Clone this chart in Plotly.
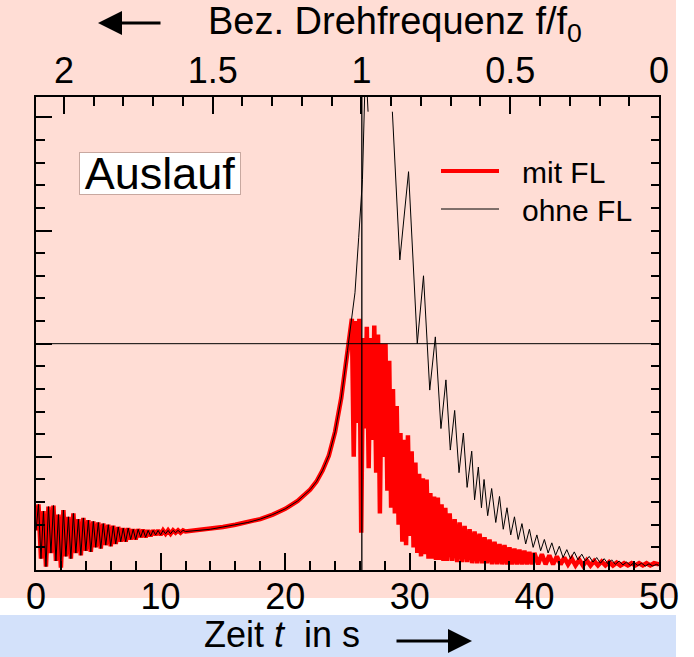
import plotly.graph_objects as go

# ---------------- data ----------------
# common part: both curves coincide from 0 s up to ~25 s
t_common = [0.0, 0.2, 0.4, 0.6, 0.8, 1.0, 1.2, 1.4, 1.6, 1.8, 2.0, 2.2, 2.4, 2.6, 2.8, 3.0, 3.2, 3.4,
            3.6, 3.8, 4.0, 4.2, 4.4, 4.6, 4.8, 5.0, 5.2, 5.4, 5.6, 5.8, 6.0, 6.2, 6.4, 6.6, 6.8, 7.0,
            7.2, 7.4, 7.6, 7.8, 8.0, 8.2, 8.4, 8.6, 8.8, 9.0, 9.2, 9.4, 9.6, 9.8, 10.0, 10.2, 10.4,
            10.6, 10.8, 11.0, 11.2, 11.4, 11.6, 11.8, 12.0, 12.5, 13, 14, 15, 16, 17, 18, 19, 20, 21,
            22, 22.5, 23, 23.5, 24, 24.5, 25.0]
y_common = [0.35, 0.58, 0.10, 0.52, 0.03, 0.56, 0.15, 0.57, 0.08, 0.49, 0.02, 0.53, 0.12, 0.47, 0.10,
            0.50, 0.15, 0.45, 0.13, 0.46, 0.17, 0.44, 0.16, 0.43, 0.20, 0.42, 0.19, 0.41, 0.22, 0.40,
            0.21, 0.39, 0.23, 0.38, 0.25, 0.37, 0.25, 0.37, 0.27, 0.36, 0.27, 0.36, 0.29, 0.355, 0.29,
            0.35, 0.30, 0.35, 0.31, 0.35, 0.31, 0.35, 0.32, 0.35, 0.32, 0.35, 0.33, 0.35, 0.33, 0.35,
            0.34, 0.345, 0.35, 0.36, 0.38, 0.40, 0.42, 0.45, 0.49, 0.54, 0.61, 0.71, 0.78, 0.88, 1.01,
            1.22, 1.52, 1.94]

# "ohne FL" (without) after 25 s  (None = gap where the curve leaves the frame)
t_ohne = [25.2, 25.6, 25.9, 26.2, 26.45, 26.65, None, 28.6, 29.2, 29.9, 30.6, 31.1, 31.6,
          32.05, 32.5, 32.9, 33.25, 33.6, 33.95, 34.3, 34.6, 34.97, 35.2, 35.5, 35.75, 35.96, 36.25,
          36.57, 36.9, 37.2, 37.5, 37.8, 38.1, 38.4, 38.7, 39.0, 39.3, 39.6, 39.9, 40.2, 40.5, 40.8,
          41.1, 41.4, 41.7, 42.0, 42.3, 42.6, 42.9, 43.2, 43.5, 43.8, 44.1, 44.4, 44.7, 45.0, 45.3,
          45.6, 45.9, 46.2, 46.5, 46.8, 47.1, 47.4, 47.7, 48.0, 48.3, 48.6, 48.9, 49.2, 49.5, 49.8, 50.0]
y_ohne = [2.10, 2.45, 2.94, 3.45, 4.50, 4.05, None, 4.05, 2.74, 3.52, 2.00, 2.60, 1.59,
          2.06, 1.25, 1.68, 1.06, 1.41, 0.86, 1.21, 0.73, 1.05, 0.62, 0.91, 0.55, 0.80, 0.48,
          0.72, 0.42, 0.65, 0.36, 0.55, 0.31, 0.47, 0.27, 0.41, 0.23, 0.36, 0.20, 0.31, 0.17, 0.27,
          0.15, 0.24, 0.13, 0.21, 0.11, 0.18, 0.10, 0.16, 0.09, 0.14, 0.08, 0.12, 0.07, 0.11, 0.06,
          0.10, 0.055, 0.09, 0.05, 0.08, 0.045, 0.07, 0.04, 0.065, 0.04, 0.06, 0.035, 0.055, 0.035, 0.05, 0.04]

# "mit FL" (with) after 25 s
t_mit = [25.20, 25.35, 25.50, 25.65, 25.80, 25.95, 26.10, 26.25, 26.40, 26.55, 26.70, 26.85, 27.00,
         27.15, 27.30, 27.45, 27.60, 27.75, 27.90, 28.05, 28.20, 28.35, 28.50, 28.65, 28.80, 28.95,
         29.10, 29.25, 29.40, 29.55, 29.70, 29.85, 30.00, 30.15, 30.30, 30.45, 30.60, 30.75, 30.90,
         31.05, 31.20, 31.35, 31.50, 31.65, 31.80, 31.95, 32.10, 32.25, 32.40, 32.55, 32.70, 32.85,
         33.00, 33.2, 33.4, 33.6, 33.8, 34.0, 34.2, 34.4, 34.6, 34.8, 35.0, 35.2, 35.4, 35.6, 35.8,
         36.0, 36.2, 36.4, 36.6, 36.8, 37.0, 37.2, 37.4, 37.6, 37.8, 38.0, 38.2, 38.4, 38.6, 38.8,
         39.0, 39.2, 39.4, 39.6, 39.8, 40.0, 40.3, 40.6, 40.9, 41.2, 41.5, 41.8, 42.1, 42.4, 42.7,
         43.0, 43.3, 43.6, 43.9, 44.2, 44.5, 44.8, 45.1, 45.4, 45.7, 46.0, 46.3, 46.6, 46.9, 47.2,
         47.5, 47.8, 48.1, 48.4, 48.7, 49.0, 49.3, 49.6, 50.0]
y_mit = [2.09, 2.22, 1.00, 2.20, 1.30, 2.22, 0.33, 2.05, 1.25, 2.15, 0.90, 2.05, 1.15,
         2.16, 0.86, 2.08, 0.50, 2.00, 1.00, 2.00, 0.70, 1.85, 0.55, 1.60, 0.50, 1.45,
         0.40, 1.21, 0.25, 1.15, 0.22, 1.19, 0.30, 1.05, 0.20, 0.95, 0.15, 0.85, 0.12,
         0.81, 0.14, 0.80, 0.10, 0.68, 0.10, 0.65, 0.09, 0.64, 0.09, 0.58, 0.08, 0.55,
         0.08, 0.50, 0.08, 0.45, 0.07, 0.42, 0.07, 0.39, 0.07, 0.36, 0.06, 0.34, 0.06, 0.32, 0.06,
         0.29, 0.06, 0.27, 0.05, 0.25, 0.05, 0.23, 0.05, 0.22, 0.05, 0.20, 0.05, 0.19, 0.05, 0.18,
         0.05, 0.17, 0.05, 0.16, 0.05, 0.15, 0.05, 0.14, 0.05, 0.13, 0.05, 0.12, 0.05, 0.11, 0.05,
         0.10, 0.04, 0.09, 0.04, 0.085, 0.04, 0.08, 0.04, 0.075, 0.04, 0.07, 0.04, 0.065, 0.04, 0.06,
         0.04, 0.06, 0.04, 0.06, 0.04, 0.06, 0.04, 0.06, 0.05]

t_nominal = 26.15          # time where f/f0 = 1
y_ref = 2                  # horizontal reference level
x_ticks = [0, 10, 20, 30, 40, 50]
f_ticks = [2, 1.5, 1, 0.5, 0]
f_labels = ["2", "1.5", "1", "0.5", "0"]
f_range = [2.094, 0]
y_range = [0, 4.18]
names = ["mit FL", "ohne FL"]

FONT = "Liberation Sans, Arial, sans-serif"
PINK = "#FFDDD5"
BLUE = "#D3E1FA"

fig = go.Figure()
fig.add_trace(go.Scatter(x=t_common + t_mit, y=y_common + y_mit, mode="lines", name=names[0],
                         line=dict(color="#FF0000", width=4.5), showlegend=False,
                         connectgaps=False))
fig.add_trace(go.Scatter(x=t_common + t_ohne, y=y_common + y_ohne, mode="lines", name=names[1],
                         line=dict(color="black", width=1), showlegend=False,
                         connectgaps=False))
# empty traces that make the top (f/f0) axis and the right tick axis appear
fig.add_trace(go.Scatter(x=f_ticks, y=[None] * len(f_ticks), xaxis="x2", yaxis="y",
                         mode="lines", showlegend=False, hoverinfo="skip"))
fig.add_trace(go.Scatter(x=[None], y=[None], xaxis="x", yaxis="y2",
                         mode="lines", showlegend=False, hoverinfo="skip"))

W, H = 694, 657
L, R, T, B = 36, 35, 97, 87
pw, ph = W - L - R, H - T - B


def px(x):
    return (x - L) / pw


def py(y):
    return (H - B - y) / ph


tickfont = dict(family=FONT, size=36, color="black")

fig.update_layout(
    width=W, height=H,
    margin=dict(l=L, r=R, t=T, b=B, pad=0, autoexpand=False),
    paper_bgcolor="white",
    plot_bgcolor="rgba(0,0,0,0)",
    font=dict(family=FONT, color="black"),
    xaxis=dict(range=[0, 50], tickvals=x_ticks, ticks="inside", ticklen=17, tickwidth=2,
               tickcolor="black", showline=True, linewidth=2, linecolor="black", mirror=True,
               showgrid=False, zeroline=False, tickfont=tickfont, ticklabelstandoff=-6,
               minor=dict(dtick=2, tick0=0, ticks="inside", ticklen=9, tickwidth=2,
                          tickcolor="black", showgrid=False)),
    xaxis2=dict(range=f_range, overlaying="x", side="top", anchor="y",
                tickvals=f_ticks, ticktext=f_labels,
                ticks="inside", ticklen=17, tickwidth=2, tickcolor="black", showline=False,
                showgrid=False, zeroline=False, tickfont=tickfont, ticklabelstandoff=6,
                minor=dict(dtick=0.1, tick0=0, ticks="inside", ticklen=9, tickwidth=2,
                           tickcolor="black", showgrid=False)),
    yaxis=dict(range=y_range, dtick=1, tick0=0, ticks="inside", ticklen=16, tickwidth=2,
               tickcolor="black", showticklabels=False, showline=True, linewidth=2,
               linecolor="black", mirror=True, showgrid=False, zeroline=False,
               minor=dict(dtick=0.2, tick0=0, ticks="inside", ticklen=9, tickwidth=2,
                          tickcolor="black", showgrid=False)),
    yaxis2=dict(range=y_range, overlaying="y", side="right", anchor="x", dtick=0.2, tick0=0,
                ticks="inside", ticklen=8, tickwidth=2, tickcolor="black",
                showticklabels=False, showline=False, showgrid=False, zeroline=False),
)

shapes = [
    dict(type="rect", xref="paper", yref="paper", x0=px(0), x1=px(676), y0=py(598), y1=py(0),
         fillcolor=PINK, line=dict(width=0), layer="below"),
    dict(type="rect", xref="paper", yref="paper", x0=px(0), x1=px(676), y0=py(657), y1=py(615),
         fillcolor=BLUE, line=dict(width=0), layer="below"),
    dict(type="line", xref="x", yref="paper", x0=t_nominal, x1=t_nominal, y0=0, y1=1,
         line=dict(color="black", width=1.3)),
    dict(type="line", xref="paper", yref="y", x0=0, x1=1, y0=y_ref, y1=y_ref,
         line=dict(color="black", width=1)),
    # legend samples
    dict(type="line", xref="paper", yref="paper", x0=px(441), x1=px(499), y0=py(171), y1=py(171),
         line=dict(color="#FF0000", width=4)),
    dict(type="line", xref="paper", yref="paper", x0=px(441), x1=px(499), y0=py(209), y1=py(209),
         line=dict(color="black", width=1)),
]
fig.update_layout(shapes=shapes)

ann = [
    dict(text="Bez. Drehfrequenz f/f<sub>0</sub>", x=px(395), y=py(24), xref="paper", yref="paper",
         xanchor="center", yanchor="middle",
         showarrow=False, font=dict(family=FONT, size=38, color="black")),
    dict(text="", x=px(98), y=py(23), xref="paper", yref="paper", ax=64, ay=0,
         showarrow=True, arrowhead=2, arrowsize=1.6, arrowwidth=3, arrowcolor="black"),
    dict(text="Zeit <i>t</i>  in s", x=px(282), y=py(656), xref="paper", yref="paper",
         xanchor="center", yanchor="bottom", borderpad=0,
         showarrow=False, font=dict(family=FONT, size=36, color="black")),
    dict(text="", x=px(472), y=py(641), xref="paper", yref="paper", ax=-77, ay=0,
         showarrow=True, arrowhead=2, arrowsize=1.6, arrowwidth=3, arrowcolor="black"),
    dict(text=names[0], x=px(520), y=py(172), xref="paper", yref="paper",
         xanchor="left", yanchor="middle",
         showarrow=False, font=dict(family=FONT, size=30, color="black")),
    dict(text=names[1], x=px(520), y=py(210), xref="paper", yref="paper",
         xanchor="left", yanchor="middle",
         showarrow=False, font=dict(family=FONT, size=30, color="black")),
    dict(text="Auslauf", x=px(160), y=py(173), xref="paper", yref="paper",
         xanchor="center", yanchor="middle", showarrow=False,
         bgcolor="white", bordercolor="#C8A8A0", borderwidth=1, borderpad=0,
         width=160, height=41, font=dict(family=FONT, size=45, color="black")),
]
fig.update_layout(annotations=ann)

fig.write_html("out.html", config={"displayModeBar": False},
               post_script="document.body.style.margin='0px';")
